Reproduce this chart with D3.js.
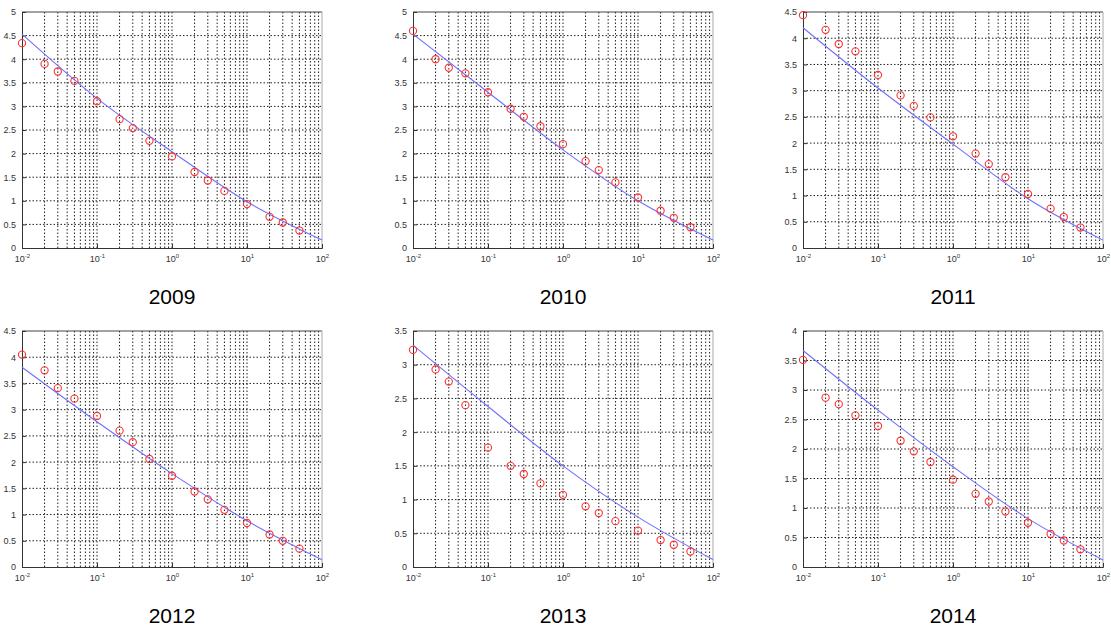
<!DOCTYPE html>
<html><head><meta charset="utf-8">
<script src="https://cdn.jsdelivr.net/npm/d3@7"></script>
<style>
body{margin:0;background:#fff;}
svg{display:block;}
text{font-family:"Liberation Sans",Arial,sans-serif;}
</style></head>
<body>
<svg id="c" width="1111" height="631"></svg>
<script>
const years = ["2009","2010","2011","2012","2013","2014"];
const xValues = [0.01,0.02,0.03,0.05,0.1,0.2,0.3,0.5,1,2,3,5,10,20,30,50];
const points2009 = [4.34,3.90,3.74,3.54,3.11,2.73,2.54,2.27,1.94,1.61,1.43,1.21,0.93,0.66,0.54,0.37];
const points2010 = [4.60,4.00,3.82,3.70,3.30,2.95,2.78,2.58,2.20,1.84,1.65,1.39,1.07,0.79,0.64,0.44];
const points2011 = [4.44,4.16,3.89,3.75,3.30,2.91,2.71,2.49,2.13,1.80,1.60,1.35,1.03,0.75,0.59,0.39];
const points2012 = [4.05,3.75,3.41,3.21,2.88,2.60,2.38,2.06,1.74,1.44,1.29,1.09,0.84,0.62,0.50,0.35];
const points2013 = [3.22,2.93,2.75,2.40,1.77,1.50,1.38,1.24,1.07,0.90,0.80,0.68,0.54,0.40,0.33,0.23];
const points2014 = [3.51,2.87,2.76,2.57,2.39,2.14,1.96,1.78,1.48,1.24,1.11,0.94,0.75,0.56,0.45,0.30];
const fitX = [0.01,0.1,1,10,100];
const fit2009 = [4.53,3.17,2.04,0.98,0.17];
const fit2010 = [4.53,3.30,2.08,1.00,0.17];
const fit2011 = [4.20,3.05,1.98,0.94,0.15];
const fit2012 = [3.81,2.77,1.78,0.88,0.14];
const fit2013 = [3.29,2.38,1.50,0.74,0.11];
const fit2014 = [3.67,2.66,1.70,0.82,0.12];
const yMax = [5,5,4.5,4.5,3.5,4];
const xTickExp = [-2,-1,0,1,2];

const pointsAll=[points2009,points2010,points2011,points2012,points2013,points2014];
const fitsAll=[fit2009,fit2010,fit2011,fit2012,fit2013,fit2014];

const svg=d3.select("#c");
const lefts=[22,413,803], tops=[12,331], W=300, H=236;

years.forEach((yr,i)=>{
  const L=lefts[i%3], T=tops[Math.floor(i/3)];
  const g=svg.append("g").attr("transform",`translate(${L},${T})`);
  const x=d3.scaleLog().domain([0.01,100]).range([0,W]);
  const y=d3.scaleLinear().domain([0,yMax[i]]).range([H,0]);
  // grid vertical
  const minor=[];
  for(let e=-2;e<2;e++) for(let m=1;m<=9;m++) minor.push(m*Math.pow(10,e));
  minor.push(100);
  g.append("g").selectAll("line").data(minor.filter(v=>v>0.01&&v<100)).join("line")
    .attr("x1",d=>x(d)).attr("x2",d=>x(d)).attr("y1",0).attr("y2",H)
    .attr("stroke","#222").attr("stroke-width",1).attr("stroke-dasharray","1.5,2");
  const yt=d3.range(0,yMax[i]+0.001,0.5);
  g.append("g").selectAll("line").data(yt.filter(v=>v>0&&v<yMax[i])).join("line")
    .attr("x1",0).attr("x2",W).attr("y1",d=>y(d)).attr("y2",d=>y(d))
    .attr("stroke","#222").attr("stroke-width",1).attr("stroke-dasharray","1.5,2");
  // box
  g.append("line").attr("x1",0).attr("x2",W).attr("y1",0).attr("y2",0).attr("stroke","#444");
  g.append("line").attr("x1",W).attr("x2",W).attr("y1",0).attr("y2",H).attr("stroke","#aaa");
  // axes
  const ya=d3.axisLeft(y).tickValues(yt).tickSize(-4).tickPadding(6).tickFormat(d=>d3.format("")(d));
  const yg=g.append("g").call(ya);
  yg.select(".domain").attr("stroke","#333");
  yg.selectAll(".tick line").attr("stroke","#333");
  yg.selectAll("text").attr("font-size",9).attr("fill","#333");
  const xa=d3.axisBottom(x).tickValues(xTickExp.map(e=>Math.pow(10,e))).tickSize(-4).tickFormat("");
  const xg=g.append("g").attr("transform",`translate(0,${H})`).call(xa);
  xg.select(".domain").attr("stroke","#333");
  xg.selectAll(".tick line").attr("stroke","#333");
  const lab=xg.selectAll(".tick").append("text").attr("fill","#333").attr("y",14).attr("font-size",9).attr("text-anchor","middle");
  lab.append("tspan").text("10");
  lab.append("tspan").attr("dy",-4).attr("font-size",6).text((d,j)=>xTickExp[j]);
  // fit line
  const fd=fitX.map((v,j)=>[v,fitsAll[i][j]]);
  g.append("path").datum(fd).attr("fill","none").attr("stroke","#6f6fff").attr("stroke-width",1.1)
    .attr("d",d3.line().x(d=>x(d[0])).y(d=>y(d[1])).curve(d3.curveMonotoneX));
  // points
  g.append("g").selectAll("circle").data(xValues.map((v,j)=>[v,pointsAll[i][j]])).join("circle")
    .attr("cx",d=>x(d[0])).attr("cy",d=>y(d[1])).attr("r",3.6)
    .attr("fill","none").attr("stroke","#ff3030").attr("stroke-width",1.1);
  // year label
  svg.append("text").attr("x",L+W/2).attr("y",T+H+56).attr("text-anchor","middle")
    .attr("font-size",21).attr("fill","#000").text(yr);
});
</script>
</body></html>
